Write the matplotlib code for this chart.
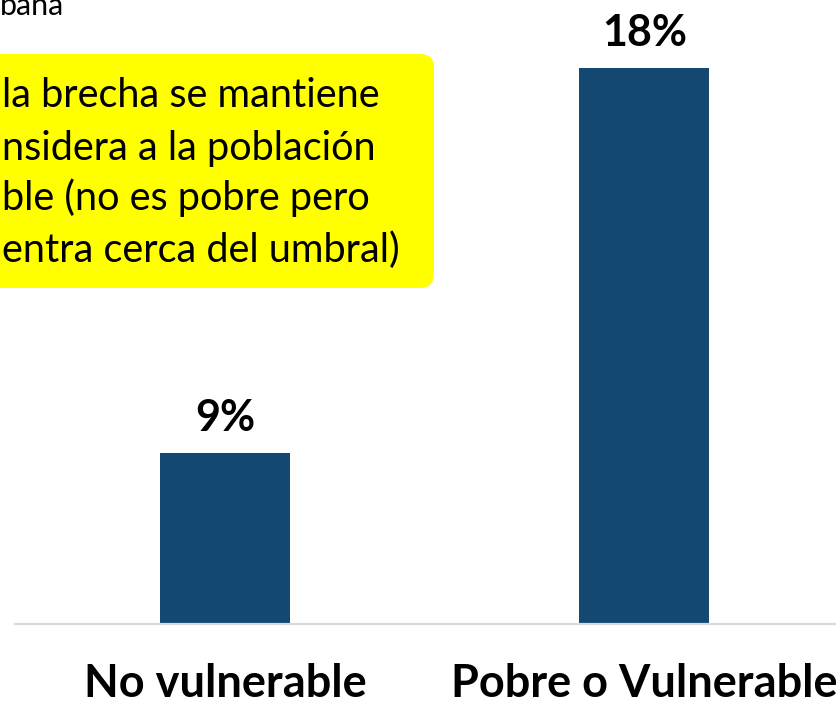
import matplotlib
matplotlib.use("Agg")
import matplotlib.pyplot as plt
from matplotlib.patches import FancyBboxPatch
from matplotlib.transforms import IdentityTransform

categories = ["No vulnerable", "Pobre o Vulnerable"]
values = [9, 18]
value_labels = ["9%", "18%"]
note_lines = ["la brecha se mantiene", "nsidera a la población",
              "ble (no es pobre pero", "entra cerca del umbral)"]
top_text = "bana"

FONT = "Lato"
W, H = 836, 703
fig = plt.figure(figsize=(W / 100, H / 100), dpi=100)
fig.patch.set_facecolor("white")

ax = fig.add_axes([15 / W, 79 / H, 1 - 15 / W, 624 / H])
x = list(range(len(categories)))
ax.bar(x, values, width=0.31, color="#134873", zorder=2)
ax.set_xlim(-0.5, 1.4565)
ax.set_ylim(5, 19.59)
for s in ["top", "left", "right"]:
    ax.spines[s].set_visible(False)
ax.spines["bottom"].set_color("#D9D9D9")
ax.spines["bottom"].set_linewidth(1.6)
ax.spines["bottom"].set_zorder(3)
ax.set_xticks([])
ax.set_yticks([])
ax.patch.set_visible(False)

for xi, v, lab in zip(x, values, value_labels):
    ax.annotate(lab, (xi, v), xytext=(0, 16), textcoords="offset points",
                ha="center", va="baseline", fontsize=31, fontweight="bold",
                family=FONT, color="black")

for xi, c in zip(x, categories):
    ax.text(xi, -73 / 624, c, transform=ax.get_xaxis_transform(),
            ha="center", va="baseline", fontsize=32.5, fontweight="bold",
            family=FONT, color="black", clip_on=False)

# yellow note box (pixel coordinates, origin bottom-left)
box = FancyBboxPatch((-40, H - 288), 434 + 40, 288 - 54,
                     boxstyle="round,pad=0,rounding_size=14",
                     transform=IdentityTransform(), facecolor="#FFFF00",
                     edgecolor="none", zorder=5)
fig.patches.append(box)

baselines = [107, 160, 210, 262]
for line, b in zip(note_lines, baselines):
    fig.text(2 / W, (H - b) / H, line, ha="left", va="baseline",
             fontsize=28.5, family=FONT, color="black", zorder=6)

fig.text(0 / W, (H - 15) / H, top_text, ha="left", va="baseline",
         fontsize=22, family=FONT, color="black")

fig.savefig("out.png", dpi=100)
